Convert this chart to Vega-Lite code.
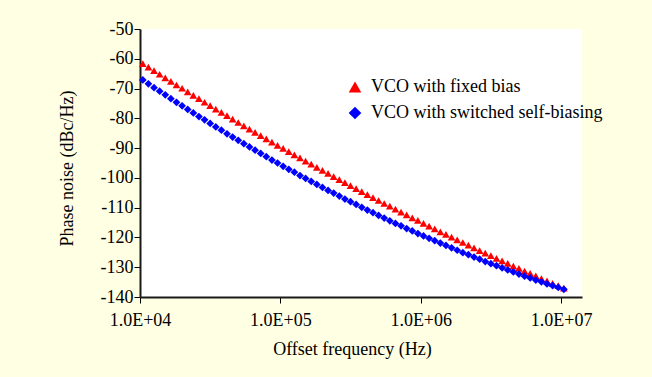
{
  "$schema": "https://vega.github.io/schema/vega-lite/v6.json",
  "width": 442,
  "height": 268,
  "autosize": "none",
  "padding": {"left": 140, "top": 29, "right": 70, "bottom": 80},
  "background": "#FFFFE3",
  "config": {
    "font": "Liberation Serif",
    "view": {"fill": "white", "stroke": null},
    "axis": {
      "grid": false,
      "domainColor": "#1a1a1a",
      "domainWidth": 2,
      "tickColor": "#000000",
      "tickWidth": 1,
      "tickSize": 6,
      "labelFont": "Liberation Serif",
      "labelFontSize": 18,
      "labelColor": "#000000",
      "labelFlush": false,
      "labelOverlap": false,
      "titleFont": "Liberation Serif",
      "titleFontSize": 18,
      "titleFontWeight": "normal",
      "titleColor": "#000000"
    },
    "legend": {
      "labelFont": "Liberation Serif",
      "labelFontSize": 18,
      "labelColor": "#000000",
      "labelLimit": 0
    }
  },
  "data": {
    "values": [
      {"f":10471,"s":"VCO with fixed bias","pn":-61.6},
      {"f":11482,"s":"VCO with fixed bias","pn":-62.8},
      {"f":12589,"s":"VCO with fixed bias","pn":-64.0},
      {"f":13804,"s":"VCO with fixed bias","pn":-65.2},
      {"f":15136,"s":"VCO with fixed bias","pn":-66.4},
      {"f":16596,"s":"VCO with fixed bias","pn":-67.6},
      {"f":18197,"s":"VCO with fixed bias","pn":-68.8},
      {"f":19953,"s":"VCO with fixed bias","pn":-69.9},
      {"f":21878,"s":"VCO with fixed bias","pn":-71.1},
      {"f":23988,"s":"VCO with fixed bias","pn":-72.3},
      {"f":26303,"s":"VCO with fixed bias","pn":-73.4},
      {"f":28840,"s":"VCO with fixed bias","pn":-74.6},
      {"f":31623,"s":"VCO with fixed bias","pn":-75.7},
      {"f":34674,"s":"VCO with fixed bias","pn":-76.9},
      {"f":38019,"s":"VCO with fixed bias","pn":-78.0},
      {"f":41687,"s":"VCO with fixed bias","pn":-79.1},
      {"f":45709,"s":"VCO with fixed bias","pn":-80.3},
      {"f":50119,"s":"VCO with fixed bias","pn":-81.4},
      {"f":54954,"s":"VCO with fixed bias","pn":-82.5},
      {"f":60256,"s":"VCO with fixed bias","pn":-83.6},
      {"f":66069,"s":"VCO with fixed bias","pn":-84.7},
      {"f":72444,"s":"VCO with fixed bias","pn":-85.8},
      {"f":79433,"s":"VCO with fixed bias","pn":-86.9},
      {"f":87096,"s":"VCO with fixed bias","pn":-88.0},
      {"f":95499,"s":"VCO with fixed bias","pn":-89.1},
      {"f":104713,"s":"VCO with fixed bias","pn":-90.1},
      {"f":114815,"s":"VCO with fixed bias","pn":-91.2},
      {"f":125893,"s":"VCO with fixed bias","pn":-92.3},
      {"f":138038,"s":"VCO with fixed bias","pn":-93.3},
      {"f":151356,"s":"VCO with fixed bias","pn":-94.4},
      {"f":165959,"s":"VCO with fixed bias","pn":-95.4},
      {"f":181970,"s":"VCO with fixed bias","pn":-96.5},
      {"f":199526,"s":"VCO with fixed bias","pn":-97.5},
      {"f":218776,"s":"VCO with fixed bias","pn":-98.5},
      {"f":239883,"s":"VCO with fixed bias","pn":-99.6},
      {"f":263027,"s":"VCO with fixed bias","pn":-100.6},
      {"f":288403,"s":"VCO with fixed bias","pn":-101.6},
      {"f":316228,"s":"VCO with fixed bias","pn":-102.6},
      {"f":346737,"s":"VCO with fixed bias","pn":-103.6},
      {"f":380189,"s":"VCO with fixed bias","pn":-104.6},
      {"f":416869,"s":"VCO with fixed bias","pn":-105.6},
      {"f":457088,"s":"VCO with fixed bias","pn":-106.6},
      {"f":501187,"s":"VCO with fixed bias","pn":-107.6},
      {"f":549541,"s":"VCO with fixed bias","pn":-108.6},
      {"f":602560,"s":"VCO with fixed bias","pn":-109.5},
      {"f":660693,"s":"VCO with fixed bias","pn":-110.5},
      {"f":724436,"s":"VCO with fixed bias","pn":-111.5},
      {"f":794328,"s":"VCO with fixed bias","pn":-112.4},
      {"f":870964,"s":"VCO with fixed bias","pn":-113.4},
      {"f":954993,"s":"VCO with fixed bias","pn":-114.3},
      {"f":1047129,"s":"VCO with fixed bias","pn":-115.3},
      {"f":1148154,"s":"VCO with fixed bias","pn":-116.2},
      {"f":1258925,"s":"VCO with fixed bias","pn":-117.1},
      {"f":1380384,"s":"VCO with fixed bias","pn":-118.1},
      {"f":1513561,"s":"VCO with fixed bias","pn":-119.0},
      {"f":1659587,"s":"VCO with fixed bias","pn":-119.9},
      {"f":1819701,"s":"VCO with fixed bias","pn":-120.8},
      {"f":1995262,"s":"VCO with fixed bias","pn":-121.7},
      {"f":2187762,"s":"VCO with fixed bias","pn":-122.6},
      {"f":2398833,"s":"VCO with fixed bias","pn":-123.5},
      {"f":2630268,"s":"VCO with fixed bias","pn":-124.4},
      {"f":2884032,"s":"VCO with fixed bias","pn":-125.3},
      {"f":3162278,"s":"VCO with fixed bias","pn":-126.1},
      {"f":3467369,"s":"VCO with fixed bias","pn":-127.0},
      {"f":3801894,"s":"VCO with fixed bias","pn":-127.9},
      {"f":4168694,"s":"VCO with fixed bias","pn":-128.7},
      {"f":4570882,"s":"VCO with fixed bias","pn":-129.6},
      {"f":5011872,"s":"VCO with fixed bias","pn":-130.4},
      {"f":5495409,"s":"VCO with fixed bias","pn":-131.3},
      {"f":6025596,"s":"VCO with fixed bias","pn":-132.1},
      {"f":6606934,"s":"VCO with fixed bias","pn":-132.9},
      {"f":7244360,"s":"VCO with fixed bias","pn":-133.8},
      {"f":7943282,"s":"VCO with fixed bias","pn":-134.6},
      {"f":8709636,"s":"VCO with fixed bias","pn":-135.4},
      {"f":9549926,"s":"VCO with fixed bias","pn":-136.2},
      {"f":10471285,"s":"VCO with fixed bias","pn":-137.0},
      {"f":10471,"s":"VCO with switched self-biasing","pn":-67.1},
      {"f":11482,"s":"VCO with switched self-biasing","pn":-68.4},
      {"f":12589,"s":"VCO with switched self-biasing","pn":-69.7},
      {"f":13804,"s":"VCO with switched self-biasing","pn":-70.9},
      {"f":15136,"s":"VCO with switched self-biasing","pn":-72.1},
      {"f":16596,"s":"VCO with switched self-biasing","pn":-73.4},
      {"f":18197,"s":"VCO with switched self-biasing","pn":-74.6},
      {"f":19953,"s":"VCO with switched self-biasing","pn":-75.8},
      {"f":21878,"s":"VCO with switched self-biasing","pn":-77.0},
      {"f":23988,"s":"VCO with switched self-biasing","pn":-78.2},
      {"f":26303,"s":"VCO with switched self-biasing","pn":-79.4},
      {"f":28840,"s":"VCO with switched self-biasing","pn":-80.5},
      {"f":31623,"s":"VCO with switched self-biasing","pn":-81.7},
      {"f":34674,"s":"VCO with switched self-biasing","pn":-82.9},
      {"f":38019,"s":"VCO with switched self-biasing","pn":-84.0},
      {"f":41687,"s":"VCO with switched self-biasing","pn":-85.2},
      {"f":45709,"s":"VCO with switched self-biasing","pn":-86.3},
      {"f":50119,"s":"VCO with switched self-biasing","pn":-87.4},
      {"f":54954,"s":"VCO with switched self-biasing","pn":-88.5},
      {"f":60256,"s":"VCO with switched self-biasing","pn":-89.6},
      {"f":66069,"s":"VCO with switched self-biasing","pn":-90.7},
      {"f":72444,"s":"VCO with switched self-biasing","pn":-91.8},
      {"f":79433,"s":"VCO with switched self-biasing","pn":-92.9},
      {"f":87096,"s":"VCO with switched self-biasing","pn":-94.0},
      {"f":95499,"s":"VCO with switched self-biasing","pn":-95.0},
      {"f":104713,"s":"VCO with switched self-biasing","pn":-96.1},
      {"f":114815,"s":"VCO with switched self-biasing","pn":-97.1},
      {"f":125893,"s":"VCO with switched self-biasing","pn":-98.1},
      {"f":138038,"s":"VCO with switched self-biasing","pn":-99.2},
      {"f":151356,"s":"VCO with switched self-biasing","pn":-100.2},
      {"f":165959,"s":"VCO with switched self-biasing","pn":-101.2},
      {"f":181970,"s":"VCO with switched self-biasing","pn":-102.2},
      {"f":199526,"s":"VCO with switched self-biasing","pn":-103.2},
      {"f":218776,"s":"VCO with switched self-biasing","pn":-104.2},
      {"f":239883,"s":"VCO with switched self-biasing","pn":-105.1},
      {"f":263027,"s":"VCO with switched self-biasing","pn":-106.1},
      {"f":288403,"s":"VCO with switched self-biasing","pn":-107.1},
      {"f":316228,"s":"VCO with switched self-biasing","pn":-108.0},
      {"f":346737,"s":"VCO with switched self-biasing","pn":-108.9},
      {"f":380189,"s":"VCO with switched self-biasing","pn":-109.9},
      {"f":416869,"s":"VCO with switched self-biasing","pn":-110.8},
      {"f":457088,"s":"VCO with switched self-biasing","pn":-111.7},
      {"f":501187,"s":"VCO with switched self-biasing","pn":-112.6},
      {"f":549541,"s":"VCO with switched self-biasing","pn":-113.5},
      {"f":602560,"s":"VCO with switched self-biasing","pn":-114.4},
      {"f":660693,"s":"VCO with switched self-biasing","pn":-115.3},
      {"f":724436,"s":"VCO with switched self-biasing","pn":-116.1},
      {"f":794328,"s":"VCO with switched self-biasing","pn":-117.0},
      {"f":870964,"s":"VCO with switched self-biasing","pn":-117.8},
      {"f":954993,"s":"VCO with switched self-biasing","pn":-118.7},
      {"f":1047129,"s":"VCO with switched self-biasing","pn":-119.5},
      {"f":1148154,"s":"VCO with switched self-biasing","pn":-120.3},
      {"f":1258925,"s":"VCO with switched self-biasing","pn":-121.1},
      {"f":1380384,"s":"VCO with switched self-biasing","pn":-121.9},
      {"f":1513561,"s":"VCO with switched self-biasing","pn":-122.7},
      {"f":1659587,"s":"VCO with switched self-biasing","pn":-123.5},
      {"f":1819701,"s":"VCO with switched self-biasing","pn":-124.3},
      {"f":1995262,"s":"VCO with switched self-biasing","pn":-125.1},
      {"f":2187762,"s":"VCO with switched self-biasing","pn":-125.8},
      {"f":2398833,"s":"VCO with switched self-biasing","pn":-126.6},
      {"f":2630268,"s":"VCO with switched self-biasing","pn":-127.3},
      {"f":2884032,"s":"VCO with switched self-biasing","pn":-128.1},
      {"f":3162278,"s":"VCO with switched self-biasing","pn":-128.8},
      {"f":3467369,"s":"VCO with switched self-biasing","pn":-129.5},
      {"f":3801894,"s":"VCO with switched self-biasing","pn":-130.2},
      {"f":4168694,"s":"VCO with switched self-biasing","pn":-130.9},
      {"f":4570882,"s":"VCO with switched self-biasing","pn":-131.6},
      {"f":5011872,"s":"VCO with switched self-biasing","pn":-132.3},
      {"f":5495409,"s":"VCO with switched self-biasing","pn":-133.0},
      {"f":6025596,"s":"VCO with switched self-biasing","pn":-133.6},
      {"f":6606934,"s":"VCO with switched self-biasing","pn":-134.3},
      {"f":7244360,"s":"VCO with switched self-biasing","pn":-134.9},
      {"f":7943282,"s":"VCO with switched self-biasing","pn":-135.6},
      {"f":8709636,"s":"VCO with switched self-biasing","pn":-136.2},
      {"f":9549926,"s":"VCO with switched self-biasing","pn":-136.8},
      {"f":10471285,"s":"VCO with switched self-biasing","pn":-137.4}
    ]
  },
  "mark": {"type": "point", "filled": true, "opacity": 1, "size": 60, "strokeWidth": 0},
  "encoding": {
    "x": {
      "field": "f",
      "type": "quantitative",
      "scale": {"type": "log", "domain": [10000, 14100000], "nice": false},
      "axis": {
        "title": "Offset frequency (Hz)",
        "values": [10000, 100000, 1000000, 10000000],
        "labelExpr": "'1.0E+0' + round(log(datum.value) / LN10)",
        "labelPadding": 8,
        "titlePadding": 11,
        "titleX": 212
      }
    },
    "y": {
      "field": "pn",
      "type": "quantitative",
      "scale": {"domain": [-140, -50], "nice": false, "zero": false},
      "axis": {
        "title": "Phase noise (dBc/Hz)",
        "values": [-140, -130, -120, -110, -100, -90, -80, -70, -60, -50],
        "labelExpr": "'' + datum.value",
        "labelPadding": 1,
        "titlePadding": 24,
        "titleY": 139
      }
    },
    "color": {
      "field": "s",
      "type": "nominal",
      "scale": {"domain": ["VCO with fixed bias", "VCO with switched self-biasing"], "range": ["#FF0000", "#0000FF"]},
      "legend": {
        "title": null,
        "orient": "none",
        "legendX": 206,
        "legendY": 49,
        "padding": 0,
        "symbolSize": 160,
        "symbolStrokeWidth": 0,
        "rowPadding": 8,
        "labelOffset": 7,
        "labelLimit": 0
      }
    },
    "shape": {
      "field": "s",
      "type": "nominal",
      "scale": {"domain": ["VCO with fixed bias", "VCO with switched self-biasing"], "range": ["triangle-up", "diamond"]},
      "legend": {
        "title": null,
        "orient": "none",
        "legendX": 206,
        "legendY": 49,
        "padding": 0,
        "symbolSize": 160,
        "symbolStrokeWidth": 0,
        "rowPadding": 8,
        "labelOffset": 7,
        "labelLimit": 0
      }
    }
  }
}
